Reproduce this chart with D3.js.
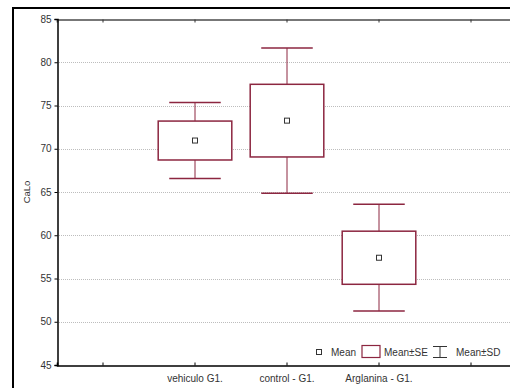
<!DOCTYPE html>
<html>
<head>
<meta charset="utf-8">
<script src="https://cdn.jsdelivr.net/npm/d3@7"></script>
<style>
  body { margin: 0; background: #fff; }
  svg { font-family: "Liberation Sans", Arial, sans-serif; }
</style>
</head>
<body>
<svg width="510" height="388"></svg>
<script>
// slots along the x axis (first and last are empty)
const slots = ["s0", "vehiculo G1.", "control - G1.", "Arglanina - G1.", "s4"];
const groups = ["vehiculo G1.", "control - G1.", "Arglanina - G1."];
const means = [70.95, 73.25, 57.4];
const se = [2.25, 4.2, 3.07];
const sd = [4.4, 8.4, 6.17];
const yTicks = [45, 50, 55, 60, 65, 70, 75, 80, 85];

const data = groups.map((g, i) => ({ g: g, m: means[i], se: se[i], sd: sd[i] }));

const boxColor = "#8c2640";
const svg = d3.select("svg");

// outer frame
svg.append("path")
   .attr("d", "M13,400 L13,8 L520,8")
   .attr("fill", "none")
   .attr("stroke", "#000")
   .attr("stroke-width", 2);

const pLeft = 57, pRight = 517, pTop = 19, pBottom = 365;

const x = d3.scaleBand()
   .domain(slots)
   .range([pLeft, pRight]);
const y = d3.scaleLinear()
   .domain([45, 85])
   .range([pBottom, pTop]);

// grid
svg.append("g")
   .selectAll("line")
   .data(yTicks.slice(1, -1))
   .enter()
   .append("line")
   .attr("x1", pLeft)
   .attr("x2", 510)
   .attr("y1", d => Math.round(y(d)) + 0.5)
   .attr("y2", d => Math.round(y(d)) + 0.5)
   .attr("stroke", "#bdbdbd")
   .attr("stroke-dasharray", "1,1");

// top border
svg.append("g")
   .attr("transform", "translate(0," + (pTop + 0.5) + ")")
   .call(d3.axisBottom(x).tickSize(3).tickFormat(""))
   .call(g => g.select(".domain").attr("stroke", "#777").attr("stroke-width", 2))
   .call(g => g.selectAll(".tick line").attr("stroke", "#333"));

// bottom axis
const xa = svg.append("g")
   .attr("transform", "translate(0," + (pBottom + 0.5) + ")")
   .call(d3.axisTop(x).tickSize(3).tickFormat(""));
xa.select(".domain").attr("stroke", "#000").attr("stroke-width", 1.5);

svg.append("g")
   .selectAll("text")
   .data(groups)
   .enter()
   .append("text")
   .attr("x", d => x(d) + x.bandwidth() / 2)
   .attr("y", pBottom + 17)
   .attr("text-anchor", "middle")
   .attr("font-size", 10)
   .attr("fill", "#333")
   .text(d => d);

// left axis
const ya = svg.append("g")
   .attr("transform", "translate(" + (pLeft + 0.5) + ",0)")
   .call(d3.axisLeft(y).tickValues(yTicks).tickSize(3).tickPadding(3));
ya.select(".domain").attr("stroke", "#000").attr("stroke-width", 1.5);
ya.selectAll("text").attr("font-size", 10).attr("fill", "#333")
   .attr("font-family", "Liberation Sans, Arial, sans-serif");

svg.append("text")
   .attr("transform", "translate(30," + ((pTop + pBottom) / 2) + ") rotate(-90)")
   .attr("text-anchor", "middle")
   .attr("font-size", 9.5)
   .attr("fill", "#333")
   .text("CaLo");

// boxes
const bw = x.bandwidth();
const boxes = svg.append("g")
   .selectAll("g")
   .data(data)
   .enter()
   .append("g")
   .attr("transform", d => "translate(" + (x(d.g) + bw / 2) + ",0)");

boxes.append("line")
   .attr("x1", 0).attr("x2", 0)
   .attr("y1", d => y(d.m + d.sd)).attr("y2", d => y(d.m - d.sd))
   .attr("stroke", boxColor);
boxes.append("line")
   .attr("x1", -bw * 0.28).attr("x2", bw * 0.28)
   .attr("y1", d => y(d.m + d.sd)).attr("y2", d => y(d.m + d.sd))
   .attr("stroke", boxColor).attr("stroke-width", 1.5);
boxes.append("line")
   .attr("x1", -bw * 0.28).attr("x2", bw * 0.28)
   .attr("y1", d => y(d.m - d.sd)).attr("y2", d => y(d.m - d.sd))
   .attr("stroke", boxColor).attr("stroke-width", 1.5);
boxes.append("rect")
   .attr("x", -bw * 0.4)
   .attr("width", bw * 0.8)
   .attr("y", d => y(d.m + d.se))
   .attr("height", d => y(d.m - d.se) - y(d.m + d.se))
   .attr("fill", "#fff")
   .attr("stroke", boxColor)
   .attr("stroke-width", 1.5);
boxes.append("rect")
   .attr("x", -2.5).attr("width", 5)
   .attr("y", d => y(d.m) - 2.5).attr("height", 5)
   .attr("fill", "#fff")
   .attr("stroke", "#333");

// legend
const lg = svg.append("g").attr("font-size", 10).attr("fill", "#333");
lg.append("rect").attr("x", 316.5).attr("y", 349.5).attr("width", 5).attr("height", 5)
   .attr("fill", "#fff").attr("stroke", "#333");
lg.append("text").attr("x", 331).attr("y", 356).text("Mean");
lg.append("rect").attr("x", 362).attr("y", 345.5).attr("width", 18).attr("height", 12)
   .attr("fill", "#fff").attr("stroke", boxColor).attr("stroke-width", 1.2);
lg.append("text").attr("x", 384).attr("y", 356).text("Mean±SE");
lg.append("path").attr("d", "M433,346.5 H447 M440,346.5 V357.5 M433,357.5 H447")
   .attr("fill", "none").attr("stroke", "#333");
lg.append("text").attr("x", 456).attr("y", 356).text("Mean±SD");
</script>
</body>
</html>
